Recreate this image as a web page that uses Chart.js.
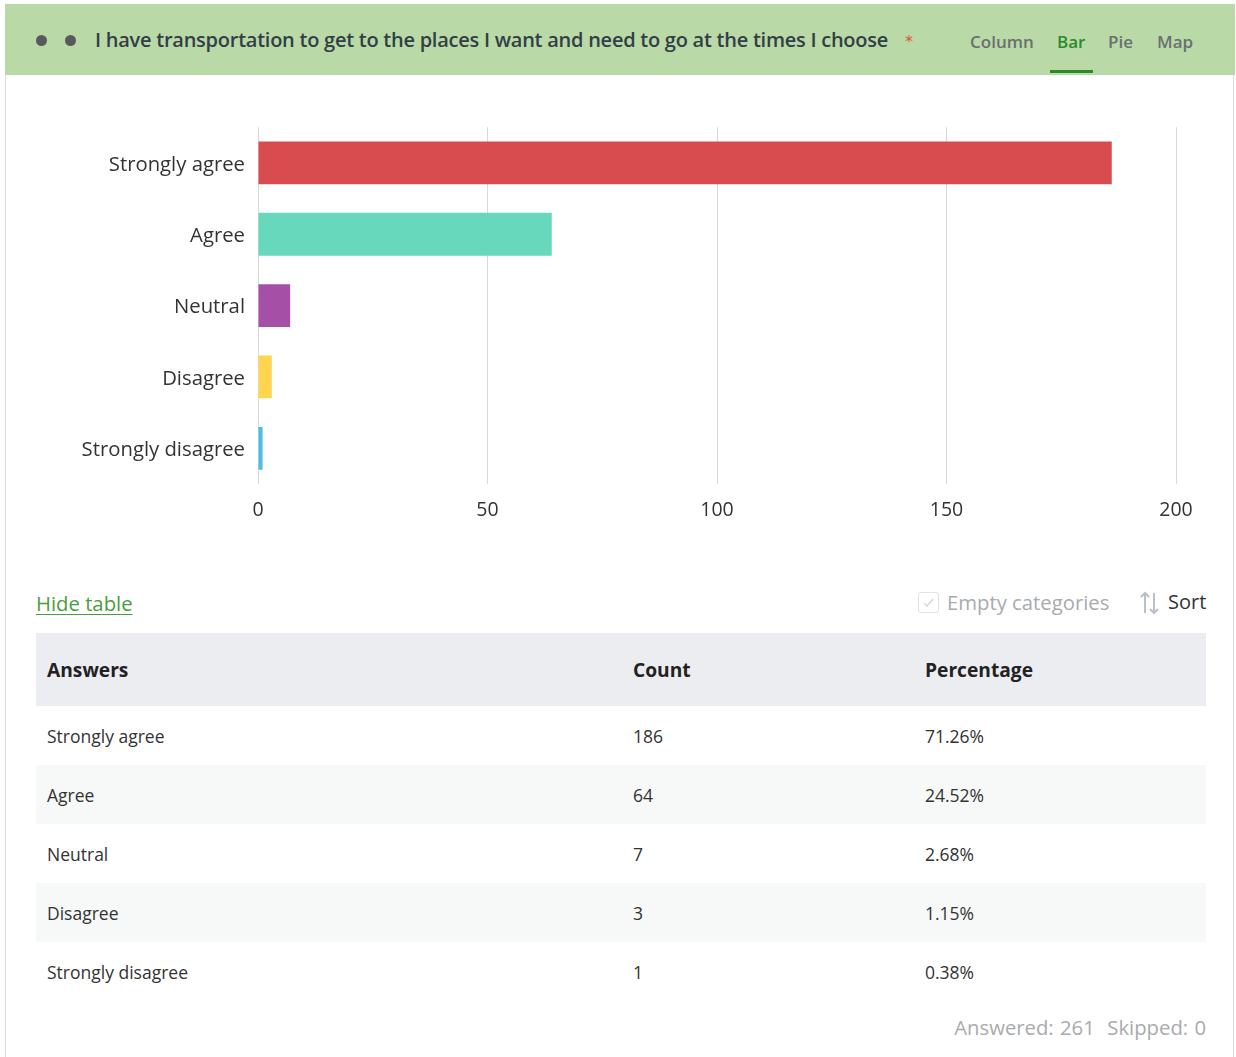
<!DOCTYPE html>
<html>
<head>
<meta charset="utf-8">
<script src="https://cdn.jsdelivr.net/npm/chart.js@4.4.1/dist/chart.umd.min.js"></script>
<style>
  html, body { margin: 0; padding: 0; background: #fff; width: 1236px; height: 1057px; overflow: hidden; font-family: "Open Sans", sans-serif; }
  #frame { position: absolute; left: 5px; top: 4px; width: 1229px; height: 1070px; border: 1px solid #dcdcdc; box-sizing: border-box; }
  #header { position: absolute; left: 5px; top: 4px; width: 1230px; height: 71px; background: #b9daa6; }
  .dot { position: absolute; top: 35px; width: 11px; height: 11px; border-radius: 50%; background: #58595b; }
  #title { position: absolute; left: 95px; top: 26px; font-family: "Open Sans", sans-serif; font-weight: 600; font-size: 20px; color: #333e48; white-space: nowrap; letter-spacing: -0.25px; }
  #star { position: absolute; left: 905px; top: 32px; color: #e0523b; font-size: 16px; font-family: "DejaVu Sans", sans-serif; }
  .tab { position: absolute; top: 30px; font-family: "Open Sans", sans-serif; font-size: 17px; color: #6b6f73; font-weight: 600; white-space: nowrap; }
  #underline { position: absolute; left: 1050px; top: 70px; width: 43px; height: 3px; background: #2c8a2c; }
  #chartBox { position: absolute; left: 40px; top: 102px; width: 1180px; height: 438px; }
  #hide { position: absolute; left: 36px; top: 589px; font-size: 20.3px; color: #4b9c3f; text-decoration: underline; text-underline-offset: 3px; text-decoration-thickness: 1px; }
  #cb { position: absolute; left: 918px; top: 592px; width: 21px; height: 21px; border: 1px solid #e2e2e2; border-radius: 3px; box-sizing: border-box; }
  #empty { position: absolute; left: 947px; top: 588px; font-size: 20.3px; color: #a9abad; white-space: nowrap; }
  #sortIcon { position: absolute; left: 1139px; top: 590px; }
  #sort { position: absolute; left: 1168px; top: 588px; font-size: 20px; color: #333; }
  #tbl { position: absolute; left: 36px; top: 633px; width: 1170px; border-collapse: collapse; }
  #tbl th { height: 73px; background: #ecedf1; text-align: left; font-size: 19.2px; font-weight: 700; color: #222; padding: 0; }
  #tbl td { height: 59px; font-size: 17.5px; color: #333; padding: 0; }
  #tbl tr:nth-child(odd) td { background: #fff; }
  #tbl tr:nth-child(even) td { background: #f7f8f8; }
  #footer { position: absolute; right: 30px; top: 1013px; font-size: 20.3px; color: #a9abad; white-space: nowrap; word-spacing: 1px; }
</style>
</head>
<body>
<div id="frame"></div>
<div id="header">
</div>
<div class="dot" style="left:36px"></div>
<div class="dot" style="left:65px"></div>
<div id="title">I have transportation to get to the places I want and need to go at the times I choose</div>
<div id="star">*</div>
<div class="tab" style="left:970px">Column</div>
<div class="tab" style="left:1057px; color:#2c8a2c">Bar</div>
<div class="tab" style="left:1108px">Pie</div>
<div class="tab" style="left:1157px">Map</div>
<div id="underline"></div>

<div id="chartBox"><canvas id="c"></canvas></div>

<div id="hide">Hide table</div>
<div id="cb"><svg width="19" height="19" viewBox="0 0 19 19" style="position:absolute;left:0;top:0"><path d="M5 10 L8 13 L14 6" stroke="#d2d4d6" stroke-width="1.4" fill="none"/></svg></div>
<div id="empty">Empty categories</div>
<svg id="sortIcon" width="24" height="26" viewBox="0 0 24 26">
  <path d="M6 23 V3 M2 7 L6 3 L10 7" stroke="#b9c0c9" stroke-width="2" fill="none"/>
  <path d="M15 3 V23 M11 19 L15 23 L19 19" stroke="#b9c0c9" stroke-width="2" fill="none"/>
</svg>
<div id="sort">Sort</div>

<table id="tbl">
  <thead><tr><th style="width:586px;padding-left:11px">Answers</th><th style="width:292px">Count</th><th>Percentage</th></tr></thead>
  <tbody id="tbody"></tbody>
</table>
<div id="footer">Answered: 261&nbsp; Skipped: 0</div>

<script>
const categories = ["Strongly agree", "Agree", "Neutral", "Disagree", "Strongly disagree"];
const counts = [186, 64, 7, 3, 1];
const percentages = ["71.26%", "24.52%", "2.68%", "1.15%", "0.38%"];
const barColors = ["#d84b4f", "#68d8bd", "#a54fa6", "#ffd44e", "#4dbde2"];
const xTicks = [0, 50, 100, 150, 200];

const tbody = document.getElementById('tbody');
categories.forEach((c, i) => {
  const tr = document.createElement('tr');
  tr.innerHTML = '<td style="padding-left:11px">' + c + '</td><td>' + counts[i] + '</td><td>' + percentages[i] + '</td>';
  tbody.appendChild(tr);
});

new Chart(document.getElementById('c'), {
  type: 'bar',
  data: {
    labels: categories,
    datasets: [{
      data: counts,
      backgroundColor: barColors,
      borderWidth: 0,
      barPercentage: 0.6,
      categoryPercentage: 1.0
    }]
  },
  options: {
    indexAxis: 'y',
    responsive: true,
    maintainAspectRatio: false,
    animation: false,
    layout: { padding: { top: 0, right: 44, left: 0, bottom: 0 } },
    plugins: { legend: { display: false }, tooltip: { enabled: false } },
    scales: {
      x: {
        min: 0, max: 200,
        z: 1,
        afterBuildTicks: (s) => { s.ticks = xTicks.map(v => ({ value: v })); },
        afterFit: (s) => { s.height = 56; },
        grid: { color: 'rgba(0,0,0,0.15)', drawTicks: false, lineWidth: 1 },
        border: { display: false },
        ticks: { padding: 15, color: '#333', font: { family: 'Open Sans', size: 19.5 } }
      },
      y: {
        afterFit: (s) => { s.width = 218; },
        grid: { display: false, drawTicks: false },
        border: { display: false },
        ticks: { padding: 13, labelOffset: 2, color: '#333', font: { family: 'Open Sans', size: 20.3 } }
      }
    }
  }
});
</script>
</body>
</html>
